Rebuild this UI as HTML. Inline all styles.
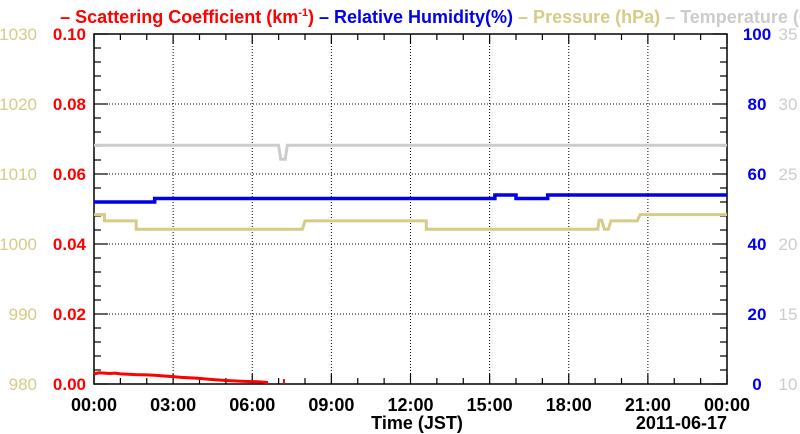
<!DOCTYPE html>
<html><head><meta charset="utf-8"><style>
html,body{margin:0;padding:0;background:#fff;width:800px;height:434px;overflow:hidden}
svg text{font-family:"Liberation Sans",Arial,sans-serif;font-weight:bold}
</style></head><body>
<svg id="c" width="800" height="434" xmlns="http://www.w3.org/2000/svg"></svg>
<script>
const xTickLabels=["00:00","03:00","06:00","09:00","12:00","15:00","18:00","21:00","00:00"];
const scatLabels=["0.00","0.02","0.04","0.06","0.08","0.10"];
const presLabels=["980","990","1000","1010","1020","1030"];
const rhLabels=["0","20","40","60","80","100"];
const tempLabels=["10","15","20","25","30","35"];
const scatHours=[0,0.2,0.4,0.6,0.8,1,1.3,1.6,2,2.3,2.6,3,3.3,3.6,4,4.3,4.6,5,5.3,5.6,6,6.3,6.6];
const scatValues=[0.0029,0.0032,0.0031,0.0030,0.0031,0.0029,0.0028,0.0027,0.0026,0.0025,0.0023,0.0021,0.0019,0.0018,0.0016,0.0014,0.0012,0.0010,0.0009,0.0008,0.0007,0.0006,0.0004];
const rhHours=[0,2.3,2.3,15.2,15.2,16.0,16.0,17.2,17.2,24];
const rhValues=[52,52,53,53,54,54,53,53,54,54];
const presHours=[0,0.4,0.4,1.6,1.6,7.9,8.0,12.6,12.6,19.1,19.15,19.25,19.35,19.5,19.6,20.6,20.7,24];
const presValues=[1004.2,1004.2,1003.3,1003.3,1002.1,1002.1,1003.3,1003.3,1002.1,1002.1,1003.4,1003.4,1002.1,1002.1,1003.3,1003.3,1004.2,1004.2];
const tempHours=[0,7.0,7.08,7.25,7.33,24];
const tempValues=[27.05,27.05,26.05,26.05,27.05,27.05];

const L=94,R=727,T=34,B=384;
const NS="http://www.w3.org/2000/svg";
const svg=document.getElementById('c');
const xS=h=>L+(R-L)*h/24;
const yScat=v=>B-(B-T)*v/0.10;
const yPres=v=>B-(B-T)*(v-980)/50;
const yRH=v=>B-(B-T)*v/100;
const yTemp=v=>B-(B-T)*(v-10)/25;
function el(tag,attrs,txt){const e=document.createElementNS(NS,tag);for(const k in attrs)e.setAttribute(k,attrs[k]);if(txt!==undefined)e.textContent=txt;svg.appendChild(e);return e;}

for(let i=1;i<8;i++){const x=xS(i*3);
const g=el('line',{x1:x,x2:x,y1:T,y2:B,stroke:'#000','stroke-width':1,'stroke-dasharray':'1,2'});

}
for(let i=1;i<5;i++){const y=yScat(i*0.02);
const g=el('line',{x1:L,x2:R,y1:y,y2:y,stroke:'#000','stroke-width':1,'stroke-dasharray':'1,2'});

}
for(let h=0;h<=24;h++){const x=xS(h);const len=h%3==0?10:6;
el('line',{x1:x,x2:x,y1:B,y2:B-len,stroke:'#000','stroke-width':1.2});
el('line',{x1:x,x2:x,y1:T,y2:T+len,stroke:'#000','stroke-width':1.2});}
for(let i=0;i<=25;i++){const y=B-(B-T)*i/25;const len=i%5==0?14:7;
el('line',{x1:L,x2:L+len,y1:y,y2:y,stroke:'#000','stroke-width':1.2});
el('line',{x1:R,x2:R-len,y1:y,y2:y,stroke:'#000','stroke-width':1.2});}
const fr=el('rect',{x:L,y:T,width:R-L,height:B-T,fill:'none',stroke:'#000','stroke-width':1.5});



function series(hs,vs,yf,color,w,name){
const pts=hs.map((h,i)=>xS(h).toFixed(1)+','+yf(vs[i]).toFixed(1)).join(' ');
const p=el('polyline',{points:pts,fill:'none',stroke:color,'stroke-width':w});

}
series(tempHours,tempValues,yTemp,'#cccccc',3,'temperature-line');
series(presHours,presValues,yPres,'#d4cc88',3,'pressure-line');
series(rhHours,rhValues,yRH,'#0000ee',3.5,'humidity-line');
series(scatHours,scatValues,yScat,'#ff0000',3,'scattering-line');
const bl=el('line',{x1:xS(7.2),x2:xS(7.2),y1:B-1,y2:B-5,stroke:'#ff0000','stroke-width':2});



xTickLabels.forEach((t,i)=>{const e=el('text',{x:xS(i*3),y:411,'text-anchor':'middle','font-size':18,fill:'#000'},t);

});
scatLabels.forEach((t,i)=>{const e=el('text',{x:86,y:yScat(i*0.02)+6,'text-anchor':'end','font-size':17,fill:'#ff0000'},t);

});
presLabels.forEach((t,i)=>{const e=el('text',{x:37,y:yScat(i*0.02)+6,'text-anchor':'end','font-size':17,fill:'#d4cc88',style:'font-weight:normal'},t);

});
rhLabels.forEach((t,i)=>{const e=el('text',{x:757,y:yScat(i*0.02)+6,'text-anchor':'middle','font-size':17,fill:'#0000ee'},t);

});
tempLabels.forEach((t,i)=>{const e=el('text',{x:788,y:yScat(i*0.02)+6,'text-anchor':'middle','font-size':17,fill:'#cccccc',style:'font-weight:normal'},t);

});
const xt=el('text',{x:417,y:429,'text-anchor':'middle','font-size':18,fill:'#000'},'Time (JST)');


const dt=el('text',{x:727,y:429,'text-anchor':'end','font-size':18,fill:'#000'},'2011-06-17');



const lg=el('text',{x:439,y:23,'text-anchor':'middle','font-size':18});


lg.innerHTML='<tspan fill="#ff0000">– Scattering Coefficient (km<tspan dy="-7" font-size="11">-1</tspan><tspan dy="7">) </tspan></tspan><tspan fill="#0000ee">– Relative Humidity(%) </tspan><tspan fill="#d4cc88">– Pressure (hPa) </tspan><tspan fill="#cccccc">– Temperature (C)</tspan>';
</script>
</body></html>
